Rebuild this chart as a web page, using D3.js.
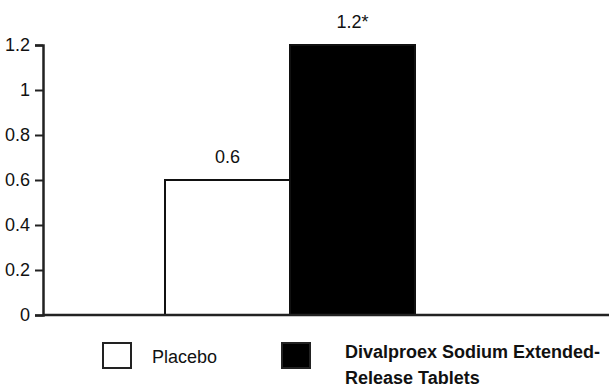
<!DOCTYPE html>
<html>
<head>
<meta charset="utf-8">
<script src="https://cdn.jsdelivr.net/npm/d3@7"></script>
<style>
  body { margin: 0; background: #fff; }
  text { font-family: "Liberation Sans", Arial, sans-serif; fill: #111; }
</style>
</head>
<body>
<svg id="chart"></svg>
<script>
var groups = ["Placebo", "Divalproex Sodium Extended-Release Tablets"];
var values = [0.6, 1.2];
var valueLabels = ["0.6", "1.2*"];
var yTicks = [0, 0.2, 0.4, 0.6, 0.8, 1, 1.2];
var fills = ["#fff", "#000"];

var width = 609, height = 387;
var svg = d3.select("#chart").attr("width", width).attr("height", height);

var x = d3.scaleBand().domain(groups).range([165, 415]).padding(0);
var y = d3.scaleLinear().domain([0, 1.2]).range([315, 45]);

// bars
svg.append("g").selectAll("rect")
  .data(groups)
  .enter().append("rect")
  .attr("x", function(d) { return x(d); })
  .attr("y", function(d, i) { return y(values[i]); })
  .attr("width", x.bandwidth())
  .attr("height", function(d, i) { return y(0) - y(values[i]); })
  .attr("fill", function(d, i) { return fills[i]; })
  .attr("stroke", "#111")
  .attr("stroke-width", 2);

// value labels
svg.append("g").selectAll("text")
  .data(groups)
  .enter().append("text")
  .attr("x", function(d) { return x(d) + x.bandwidth() / 2; })
  .attr("y", function(d, i) { return y(values[i]) - 17; })
  .attr("text-anchor", "middle")
  .style("font-size", "18px")
  .text(function(d, i) { return valueLabels[i]; });

// y axis
var yAxis = d3.axisLeft(y).tickValues(yTicks).tickSize(8).tickPadding(5)
  .tickFormat(function(d) { return String(d); });
var ga = svg.append("g").attr("transform", "translate(43,0)").call(yAxis);
ga.select(".domain").attr("stroke", "#222").attr("stroke-width", 2.5);
ga.selectAll(".tick line").attr("stroke", "#222").attr("stroke-width", 2);
ga.selectAll(".tick text").style("font-size", "18px").attr("fill", "#111")
  .style("font-family", "'Liberation Sans', Arial, sans-serif");

// baseline
svg.append("line")
  .attr("x1", 43).attr("x2", width)
  .attr("y1", y(0)).attr("y2", y(0))
  .attr("stroke", "#222").attr("stroke-width", 2.5);

// legend
var legendX = [103, 282];
var leg = svg.append("g");
leg.selectAll("rect")
  .data(groups)
  .enter().append("rect")
  .attr("x", function(d, i) { return legendX[i]; })
  .attr("y", 343)
  .attr("width", 28)
  .attr("height", 25)
  .attr("fill", function(d, i) { return fills[i]; })
  .attr("stroke", "#222")
  .attr("stroke-width", 2);

leg.append("text")
  .attr("x", 152).attr("y", 363)
  .style("font-size", "18px")
  .text(groups[0]);

var t2 = leg.append("text")
  .attr("x", 345).attr("y", 358)
  .style("font-size", "18px")
  .style("font-weight", "bold");
t2.append("tspan").attr("x", 345).text("Divalproex Sodium Extended-");
t2.append("tspan").attr("x", 345).attr("dy", 26).text("Release Tablets");
</script>
</body>
</html>
